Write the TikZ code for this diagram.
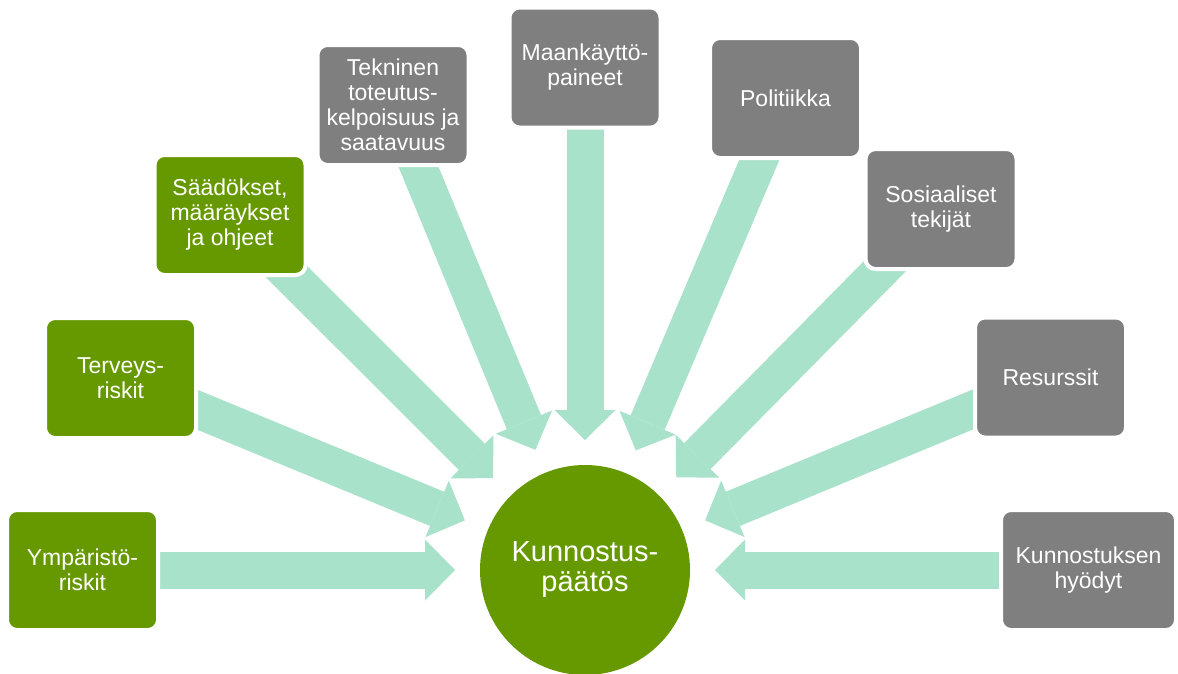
\documentclass[tikz,border=0pt]{standalone}
\usepackage{fontspec}
\setmainfont{Liberation Sans}
\usetikzlibrary{arrows.meta}
\definecolor{boxgreen}{RGB}{102,153,0}
\definecolor{boxgray}{RGB}{127,127,127}
\definecolor{flowc}{RGB}{169,226,202}
\pgfdeclarelayer{bg}
\pgfsetlayers{bg,main}
\tikzset{
  factor/.style={rectangle, rounded corners=10pt, draw=white, line width=4pt,
    minimum width=151pt, minimum height=120pt, inner sep=0pt, text=white,
    align=center, font=\fontsize{23}{25}\selectfont},
  greenbox/.style={factor, fill=boxgreen},
  graybox/.style={factor, fill=boxgray},
  decision/.style={circle, fill=boxgreen, minimum size=210pt, inner sep=0pt,
    outer sep=0pt, text=white, align=center, font=\fontsize{29}{30}\selectfont},
  flow/.style={draw=flowc, line width=37pt, shorten <=-25pt, shorten >=25pt,
    -{Triangle[width=61pt,length=30pt,line width=0pt]}}
}
\begin{document}
\begin{tikzpicture}[x=1pt,y=-1pt]
\useasboundingbox (0,0) rectangle (1178,673);
\begin{pgfonlayer}{bg}
\fill[white] (0,0) rectangle (1178,673);
\end{pgfonlayer}

\node[decision] (circ) at (585,570) {Kunnostus-\\päätös};

\node[greenbox] (b1) at (82.5,570) {Ympäristö-\\riskit};
\node[greenbox] (b2) at (120.5,378) {Terveys-\\riskit};
\node[greenbox] (b3) at (230,215) {Säädökset,\\määräykset\\ja ohjeet};
\node[graybox] (b4) at (393,105) {Tekninen\\toteutus-\\kelpoisuus ja\\saatavuus};
\node[graybox] (b5) at (585,67.5) {Maankäyttö-\\paineet};
\node[graybox] (b6) at (785.5,98) {Politiikka};
\node[graybox] (b7) at (941,209) {Sosiaaliset\\tekijät};
\node[graybox] (b8) at (1050.5,377.5) {Resurssit};
\node[graybox, minimum width=175pt] (b9) at (1088.5,570) {Kunnostuksen\\hyödyt};

\begin{pgfonlayer}{bg}
\foreach \b in {b1,b2,b3,b4,b5,b6,b7,b8,b9}{
  \draw[flow] (\b) -- (circ);
}
\end{pgfonlayer}
\end{tikzpicture}
\end{document}
